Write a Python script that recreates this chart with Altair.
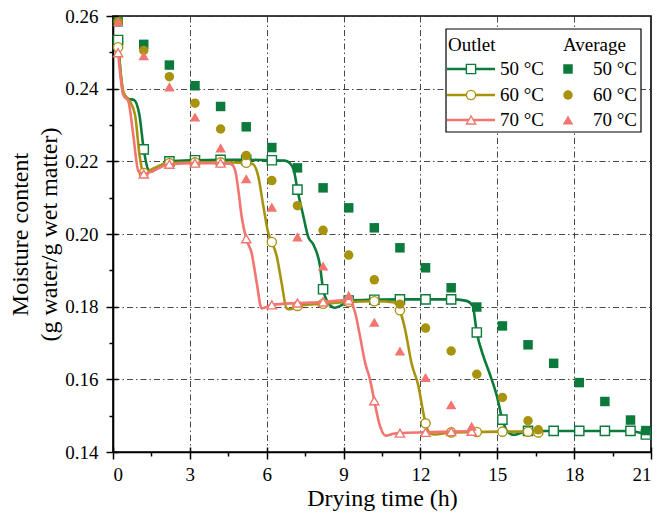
import altair as alt
import pandas as pd

FONT = "Liberation Serif"
series = ["50 °C", "60 °C", "70 °C"]
colors = ["#0B7A3B", "#A8930F", "#F2756F"]
shapes = ["square", "circle", "triangle-up"]

# ---- Outlet curves (dense points along the smooth line) ----
line50_t = [0.2, 0.4, 0.6, 0.82, 1.03, 1.2, 1.38, 1.51, 1.7, 2.2, 3.2, 4.2, 5.2, 6.2, 6.7, 6.9, 7.06, 7.2,
            7.43, 7.62, 7.82, 8.08, 8.2, 8.4, 8.66, 8.99, 9.2, 10.2, 11.2, 12.2, 13.2, 13.8, 14.04, 14.2,
            14.45, 14.71, 14.98, 15.2, 15.37, 15.63, 16.2, 17.2, 18.2, 19.2, 20.2, 20.8]
line50_y = [0.2534, 0.2388, 0.2372, 0.2369, 0.2328, 0.2233, 0.2177, 0.2172, 0.2180, 0.2200, 0.2203, 0.2204,
            0.2204, 0.2203, 0.2202, 0.2195, 0.2175, 0.2122, 0.2049, 0.1992, 0.1971, 0.1912, 0.1848, 0.1811,
            0.1797, 0.1807, 0.1817, 0.1819, 0.1820, 0.1820, 0.1820, 0.1816, 0.1802, 0.1729, 0.1665, 0.1614,
            0.1555, 0.1489, 0.1459, 0.1447, 0.1458, 0.1458, 0.1458, 0.1458, 0.1458, 0.1448]

line60_t = [0.2, 0.42, 0.66, 0.86, 1.05, 1.2, 1.5, 2.2, 3.2, 4.2, 5.2, 5.45, 5.67, 5.87, 6.06, 6.2, 6.39,
            6.58, 6.78, 6.91, 7.2, 8.2, 9.2, 10.2, 11.07, 11.2, 11.4, 11.66, 11.92, 12.11, 12.2, 12.37,
            12.57, 13.2, 14.2, 15.2, 16.2, 16.6]
line60_y = [0.2514, 0.2388, 0.2365, 0.2328, 0.2210, 0.2168, 0.2178, 0.2195, 0.2197, 0.2197, 0.2196, 0.2193,
            0.2159, 0.2076, 0.2003, 0.1978, 0.1939, 0.1866, 0.1795, 0.1793, 0.1802, 0.1808, 0.1813, 0.1815,
            0.1811, 0.1790, 0.1738, 0.1642, 0.1582, 0.1509, 0.1479, 0.1452, 0.1448, 0.1454, 0.1455, 0.1456,
            0.1456, 0.1454]

line70_t = [0.2, 0.4, 0.6, 0.79, 0.99, 1.2, 1.6, 2.2, 3.2, 4.2, 4.6, 4.76, 4.89, 5.02, 5.2, 5.41, 5.61, 5.8,
            6.2, 7.2, 8.2, 9.2, 9.45, 9.64, 9.84, 10.03, 10.2, 10.42, 10.64, 10.94, 11.2, 12.2, 13.2, 14.0]
line70_y = [0.2499, 0.2383, 0.2365, 0.2273, 0.2173, 0.2165, 0.2175, 0.2192, 0.2195, 0.2195, 0.2193, 0.2177,
            0.2122, 0.2049, 0.1987, 0.1948, 0.1866, 0.1795, 0.1805, 0.1810, 0.1813, 0.1818, 0.1784, 0.1719,
            0.1646, 0.1600, 0.1541, 0.1472, 0.1445, 0.1450, 0.1452, 0.1454, 0.1456, 0.1457]

# ---- Outlet hourly markers (open symbols) ----
mk50_t = [0.2, 1.2, 2.2, 3.2, 4.2, 5.2, 6.2, 7.2, 8.2, 9.2, 10.2, 11.2, 12.2, 13.2, 14.2, 15.2, 16.2, 17.2,
          18.2, 19.2, 20.2, 20.8]
mk50_y = [0.2534, 0.2233, 0.2200, 0.2203, 0.2204, 0.2204, 0.2203, 0.2122, 0.1848, 0.1817, 0.1819, 0.1820,
          0.1820, 0.1820, 0.1729, 0.1489, 0.1458, 0.1458, 0.1458, 0.1458, 0.1458, 0.1448]
mk60_t = [0.2, 1.2, 2.2, 3.2, 4.2, 5.2, 6.2, 7.2, 8.2, 9.2, 10.2, 11.2, 12.2, 13.2, 14.2, 15.2, 16.2, 16.6]
mk60_y = [0.2514, 0.2168, 0.2195, 0.2197, 0.2197, 0.2196, 0.1978, 0.1802, 0.1808, 0.1813, 0.1815, 0.1790,
          0.1479, 0.1454, 0.1455, 0.1456, 0.1456, 0.1454]
mk70_t = [0.2, 1.2, 2.2, 3.2, 4.2, 5.2, 6.2, 7.2, 8.2, 9.2, 10.2, 11.2, 12.2, 13.2, 14.0]
mk70_y = [0.2499, 0.2165, 0.2192, 0.2195, 0.2195, 0.1987, 0.1805, 0.1810, 0.1813, 0.1818, 0.1541, 0.1452,
          0.1454, 0.1456, 0.1457]

# ---- Average (filled symbols) ----
avg50_t = [0.2, 1.2, 2.2, 3.2, 4.2, 5.2, 6.2, 7.2, 8.2, 9.2, 10.2, 11.2, 12.2, 13.2, 14.2, 15.2, 16.2, 17.2,
           18.2, 19.2, 20.2, 20.8]
avg50_y = [0.2584, 0.2522, 0.2465, 0.2408, 0.2351, 0.2295, 0.2238, 0.2182, 0.2127, 0.2072, 0.2017, 0.1962,
           0.1907, 0.1852, 0.1799, 0.1747, 0.1695, 0.1644, 0.1591, 0.1539, 0.1488, 0.1459]
avg60_t = [0.2, 1.2, 2.2, 3.2, 4.2, 5.2, 6.2, 7.2, 8.2, 9.2, 10.2, 11.2, 12.2, 13.2, 14.2, 15.2, 16.2, 16.6]
avg60_y = [0.2584, 0.2505, 0.2433, 0.2360, 0.2289, 0.2216, 0.2147, 0.2078, 0.2010, 0.1942, 0.1874, 0.1807,
           0.1741, 0.1678, 0.1614, 0.1550, 0.1486, 0.1461]
avg70_t = [0.2, 1.2, 2.2, 3.2, 4.2, 5.2, 6.2, 7.2, 8.2, 9.2, 10.2, 11.2, 12.2, 13.2, 14.0]
avg70_y = [0.2584, 0.2491, 0.2405, 0.2322, 0.2237, 0.2152, 0.2074, 0.1992, 0.1912, 0.1831, 0.1757, 0.1678,
           0.1605, 0.1530, 0.1471]

x_ticks = [0, 3, 6, 9, 12, 15, 18, 21]
x_minor = [1.5, 4.5, 7.5, 10.5, 13.5, 16.5, 19.5]
y_ticks = [0.14, 0.16, 0.18, 0.20, 0.22, 0.24, 0.26]
y_minor = [0.15, 0.17, 0.19, 0.21, 0.23, 0.25]

lines = [(line50_t, line50_y), (line60_t, line60_y), (line70_t, line70_y)]
marks = [(mk50_t, mk50_y), (mk60_t, mk60_y), (mk70_t, mk70_y)]
avgs = [(avg50_t, avg50_y), (avg60_t, avg60_y), (avg70_t, avg70_y)]

xs = alt.Scale(domain=[0, 21], nice=False, zero=False)
ys = alt.Scale(domain=[0.14, 0.26], nice=False, zero=False)

x_axis = alt.Axis(values=x_ticks, title="Drying time (h)", grid=True, format="d", orient="bottom",
                  labelPadding=6, titleY=46, titleBaseline="middle")
y_axis = alt.Axis(values=y_ticks, title=["Moisture content", "(g water/g wet matter)"], grid=True,
                  format=".2f", orient="left", labelPadding=8, titleX=-81, titleY=218, titleAngle=-90,
                  titleAlign="center", titleBaseline="bottom", titleLineHeight=29)

layers = []
base_df = pd.DataFrame({"t": line50_t, "v": line50_y})
layers.append(alt.Chart(base_df).mark_line(opacity=0).encode(
    x=alt.X("t:Q", scale=xs, axis=x_axis),
    y=alt.Y("v:Q", scale=ys, axis=y_axis)))
# minor ticks (outside)
layers.append(alt.Chart(base_df).mark_line(opacity=0).encode(
    x=alt.X("t:Q", scale=xs, axis=alt.Axis(values=x_minor, labels=False, grid=False, domain=False,
                                            tickSize=4, title=None, orient="bottom")),
    y=alt.Y("v:Q", scale=ys, axis=alt.Axis(values=y_minor, labels=False, grid=False, domain=False,
                                            tickSize=4, title=None, orient="left"))))
# inner part of the crossing major ticks
layers.append(alt.Chart(base_df).mark_line(opacity=0).encode(
    x=alt.X("t:Q", scale=xs, axis=alt.Axis(values=x_ticks, labels=False, grid=False, domain=False,
                                            tickSize=5, offset=-5, title=None, orient="bottom")),
    y=alt.Y("v:Q", scale=ys, axis=alt.Axis(values=y_ticks, labels=False, grid=False, domain=False,
                                            tickSize=5, offset=-5, title=None, orient="left"))))

for i in range(3):
    lt, lv = lines[i]
    df = pd.DataFrame({"t": lt, "v": lv})
    layers.append(alt.Chart(df).mark_line(color=colors[i], strokeWidth=2.6, interpolate="monotone").encode(
        x=alt.X("t:Q", scale=xs, axis=None), y=alt.Y("v:Q", scale=ys, axis=None)))
    mt, mv = marks[i]
    dfm = pd.DataFrame({"t": mt, "v": mv})
    layers.append(alt.Chart(dfm).mark_point(shape=shapes[i], filled=True, fill="white", stroke=colors[i],
                                            strokeWidth=1.4, size=85, opacity=1).encode(
        x=alt.X("t:Q", scale=xs, axis=None), y=alt.Y("v:Q", scale=ys, axis=None)))

for i in range(3):
    at, av = avgs[i]
    dfa = pd.DataFrame({"t": at, "v": av})
    layers.append(alt.Chart(dfa).mark_point(shape=shapes[i], filled=True, color=colors[i],
                                            size=90 if i < 2 else 110, opacity=1).encode(
        x=alt.X("t:Q", scale=xs, axis=None), y=alt.Y("v:Q", scale=ys, axis=None)))

# ---- manual legend box (pixel positions inside plot area) ----
one = pd.DataFrame({"a": [0]})
layers.append(alt.Chart(one).mark_rect(fill="white", stroke="black", strokeWidth=1.2).encode(
    x=alt.value(333), x2=alt.value(528), y=alt.value(13), y2=alt.value(116)))
layers.append(alt.Chart(one).mark_text(text="Outlet", align="left", baseline="middle", font=FONT,
                                       fontSize=19, color="black").encode(x=alt.value(335), y=alt.value(29)))
layers.append(alt.Chart(one).mark_text(text="Average", align="left", baseline="middle", font=FONT,
                                       fontSize=19, color="black").encode(x=alt.value(450), y=alt.value(29)))
row_y = [53, 79, 104]
for i in range(3):
    ry = row_y[i]
    layers.append(alt.Chart(one).mark_rule(color=colors[i], strokeWidth=2.6).encode(
        x=alt.value(334), x2=alt.value(382), y=alt.value(ry)))
    layers.append(alt.Chart(one).mark_point(shape=shapes[i], filled=True, fill="white", stroke=colors[i],
                                            strokeWidth=1.4, size=85, opacity=1).encode(
        x=alt.value(358), y=alt.value(ry)))
    layers.append(alt.Chart(one).mark_text(text=series[i], align="left", baseline="middle", font=FONT,
                                           fontSize=19, color="black").encode(x=alt.value(387), y=alt.value(ry)))
    layers.append(alt.Chart(one).mark_point(shape=shapes[i], filled=True, color=colors[i],
                                            size=90 if i < 2 else 110, opacity=1).encode(
        x=alt.value(455), y=alt.value(ry)))
    layers.append(alt.Chart(one).mark_text(text=series[i], align="left", baseline="middle", font=FONT,
                                           fontSize=19, color="black").encode(x=alt.value(480), y=alt.value(ry)))

chart = alt.layer(*layers).resolve_axis(x="independent", y="independent").properties(
    width=538, height=436,
    background="white",
    autosize=alt.AutoSizeParams(type="none"),
    padding={"left": 113, "top": 16, "right": 7, "bottom": 63},
).configure_view(stroke="black", strokeWidth=1.6).configure_axis(
    labelFont=FONT, labelFontSize=19, labelColor="black",
    titleFont=FONT, titleFontSize=24, titleFontWeight="normal", titleColor="black",
    domainColor="black", domainWidth=1.6, tickColor="black", tickWidth=1.5, tickSize=7,
    gridColor="#333333", gridWidth=0.9, gridDash=[6, 3, 1.5, 3],
)

chart.save("out.html", embed_options={"renderer": "svg", "actions": False})
